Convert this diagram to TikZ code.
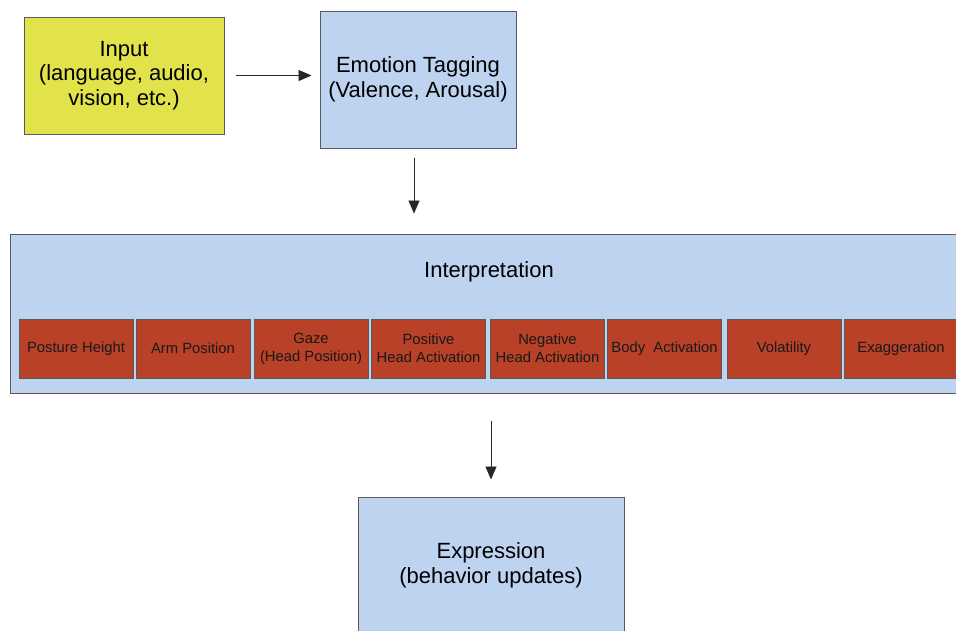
\documentclass[tikz,border=0pt]{standalone}
\usepackage{fontspec}
\setmainfont{Liberation Sans}
\usetikzlibrary{arrows.meta}
\definecolor{boxblue}{HTML}{BED3EF}
\definecolor{boxyellow}{HTML}{E2E24B}
\definecolor{boxred}{HTML}{B84127}
\definecolor{edgegray}{HTML}{5A5A5A}
\tikzset{
  stagebox/.style={draw=edgegray, line width=1pt, inner sep=0pt, align=center, font=\fontsize{22}{24.5}\selectfont},
  featbox/.style={draw=edgegray, fill=boxred, line width=0.8pt, minimum width=114pt, minimum height=59pt, inner sep=0pt, align=center, text=black!90, font=\fontsize{14.8}{18}\selectfont},
  flow/.style={draw=black!85, line width=0.9pt, -{Triangle[length=13pt,width=11pt]}}
}
\begin{document}
\begin{tikzpicture}[x=1pt,y=1pt,yscale=-1]
\useasboundingbox (0,0) rectangle (956,630);
\clip (0,0) rectangle (956,630);

%Shape: Input box
\node[stagebox, fill=boxyellow, minimum width=200pt, minimum height=117pt] (input) at (124,75.5) {Input\\(language, audio,\\vision, etc.)};
%Shape: Emotion box
\node[stagebox, fill=boxblue, minimum width=196pt, minimum height=137pt] (emo) at (418,79.5) {Emotion Tagging\\(Valence, Arousal)};
%Shape: Interpretation frame
\node[stagebox, fill=boxblue, minimum width=958pt, minimum height=159pt] (interp) at (489,313.5) {};
% Text Node
\node[font=\fontsize{22}{24.5}\selectfont] (ititle) at (489,272) {Interpretation};
%Shape: feature boxes
\foreach \cx/\txt [count=\i] in {76/Posture Height, 193/Arm Position, 311/{Gaze\\(Head Position)}, 428.5/{Positive\\Head Activation}, 547.5/{Negative\\Head Activation}, 664.5/{Body~ Activation}, 784/Volatility, 901/Exaggeration}
  \node[featbox] (f\i) at (\cx,348.5) {\txt};
%Shape: Expression box
\node[stagebox, fill=boxblue, minimum width=266pt, minimum height=137pt] (expr) at (491,565.5) {Expression\\(behavior updates)};

% Arrows
\draw[flow, shorten <=11pt, shorten >=8pt] (input.east) -- (input.east -| emo.west);
\draw[flow, shorten <=9pt, shorten >=20pt] ([xshift=-4pt]emo.south) -- ([xshift=-4pt]emo.south |- interp.north);
\draw[flow, shorten <=27pt, shorten >=17pt] (expr.north |- interp.south) -- (expr.north);
\end{tikzpicture}
\end{document}
